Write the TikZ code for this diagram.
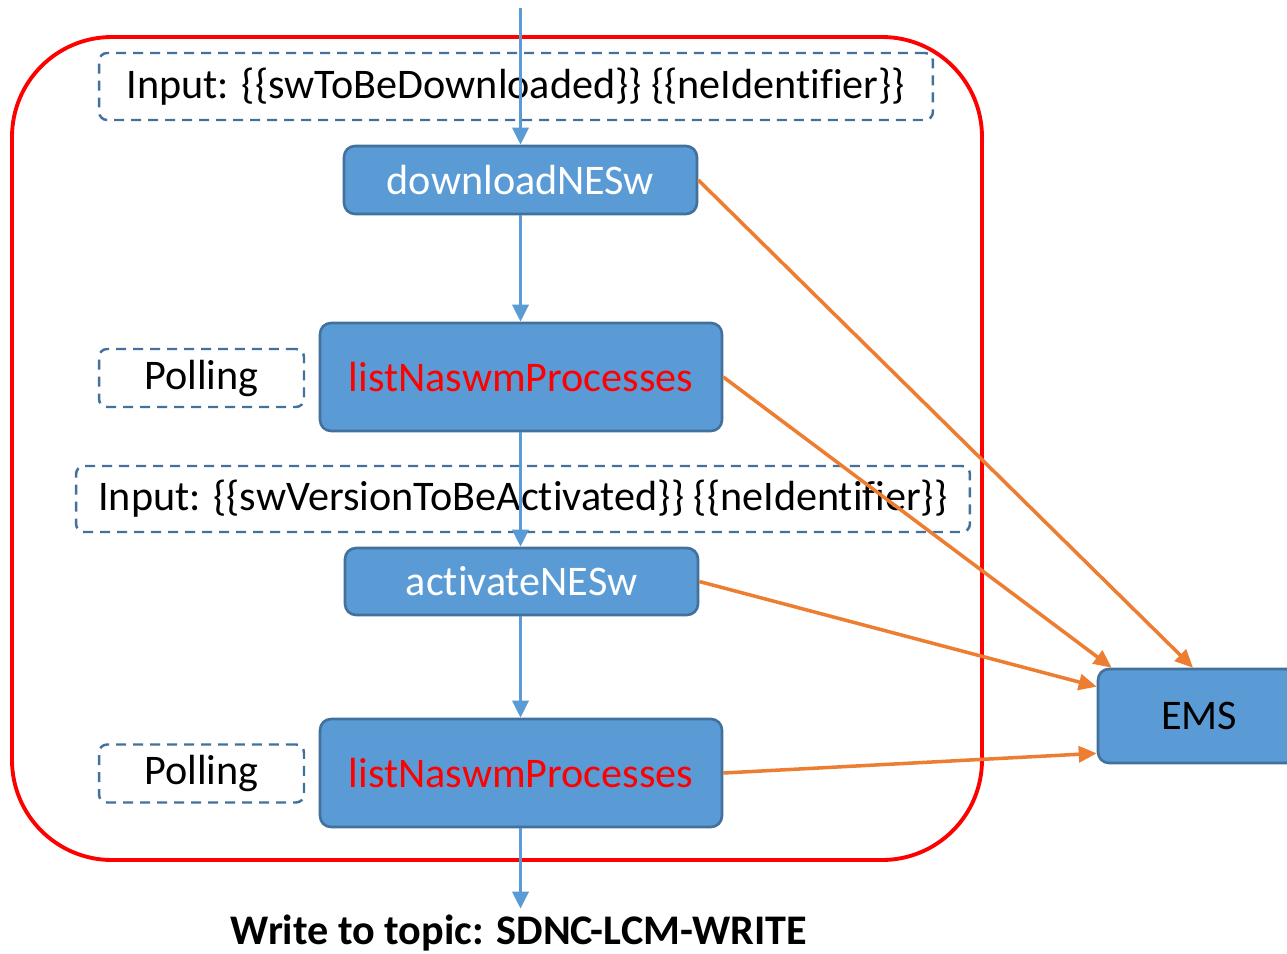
\documentclass[tikz,border=0pt]{standalone}
\usepackage{fontspec}
\setmainfont{Carlito}[Ligatures = NoCommon]
\usepackage{xcolor}
\usetikzlibrary{arrows.meta, positioning}

\definecolor{stepFill}{HTML}{5B9BD5}
\definecolor{stepEdge}{HTML}{41719C}
\definecolor{feedLine}{HTML}{ED7D31}

\tikzset{
	stepbox/.style = {draw = stepEdge, line width = 1.5pt, fill = stepFill, rounded corners = 0.22cm,
		text = white, font = \fontsize{24}{28}\selectfont, inner sep = 0pt},
	notebox/.style = {draw = stepEdge, line width = 1.4pt, dash pattern = on 0.2cm off 0.14cm,
		rounded corners = 0.16cm, font = \fontsize{24}{28}\selectfont, inner sep = 0pt},
	flow/.style = {draw = stepFill, line width = 2pt, -{Triangle[length = 0.34cm, width = 0.32cm]}},
	feed/.style = {draw = feedLine, line width = 2pt, -{Triangle[length = 0.36cm, width = 0.32cm]}},
}

\begin{document}
\begin{tikzpicture}[x = 0.02cm, y = -0.02cm]
	\clip (0,0) rectangle (1287,953);
	\fill [white] (0,0) rectangle (1287,953);

	% workflow frame
	\draw [red, line width = 2.2pt, rounded corners = 2cm] (12,37) rectangle (982,860);

	\begin{scope}
		\node [notebox, minimum width = 16.68cm, minimum height = 1.34cm] (in1) at (516,86.5)
			{Input: \{\{swToBeDownloaded\}\} \{\{neIdentifier\}\}};
		\node [stepbox, minimum width = 7.06cm, minimum height = 1.36cm] (dl) at (520.5,180) {downloadNESw};
		\node [stepbox, minimum width = 8.04cm, minimum height = 2.16cm, text = red] (ls1) at (521,377) {listNaswmProcesses};
		\node [notebox, minimum width = 4.1cm, minimum height = 1.16cm] (poll1) at (201.5,378) {Polling};
	\end{scope}

	\begin{scope}
		\node [notebox, minimum width = 17.88cm, minimum height = 1.32cm] (in2) at (523,499)
			{Input: \{\{swVersionToBeActivated\}\} \{\{neIdentifier\}\}};
		\node [stepbox, minimum width = 7.06cm, minimum height = 1.34cm] (act) at (521.5,581.5) {activateNESw};
		\node [stepbox, minimum width = 8.04cm, minimum height = 2.16cm, text = red] (ls2) at (521,773) {listNaswmProcesses};
		\node [notebox, minimum width = 4.1cm, minimum height = 1.16cm] (poll2) at (201.5,773.5) {Polling};
	\end{scope}

	\node [stepbox, text = black, minimum width = 4.04cm, minimum height = 1.88cm] (ems) at (1199,716) {EMS};
	\node [font = \fontsize{24}{28}\selectfont\bfseries] (topic) at (519,933) {Write to topic: SDNC-LCM-WRITE};
	\coordinate (start) at (520.5,8);

	% main flow
	\draw [flow] (start) -- (dl.north);
	\draw [flow] (dl.south) -- (ls1.north -| dl.south);
	\draw [flow] (ls1.south -| dl.south) -- (act.north -| dl.south);
	\draw [flow] (act.south -| dl.south) -- (ls2.north -| dl.south);
	\draw [flow] (ls2.south -| dl.south) -- (topic.north -| dl.south);

	% calls to the EMS
	\draw [feed] (dl.east) -- ([xshift = -0.12cm]ems.north);
	\draw [feed] (ls1.east) -- ([xshift = 0.3cm]ems.north west);
	\draw [feed] (act.east) -- ([yshift = -0.38cm]ems.north west);
	\draw [feed] (ls2.east) -- ([yshift = 0.22cm]ems.south west);
\end{tikzpicture}
\end{document}
